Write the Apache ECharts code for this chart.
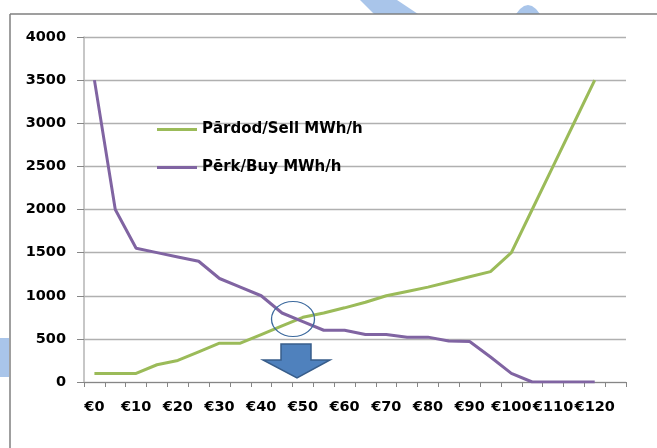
<!DOCTYPE html>
<html>
<head>
<meta charset="utf-8">
<script src="https://cdn.jsdelivr.net/npm/echarts@6/dist/echarts.min.js"></script>
<style>
  html, body { margin: 0; padding: 0; background: #ffffff; }
  #chart { width: 657px; height: 448px; }
</style>
</head>
<body>
<div id="chart"></div>
<script>
const categories = ['€0','€5','€10','€15','€20','€25','€30','€35','€40','€45','€50','€55','€60','€65','€70','€75','€80','€85','€90','€95','€100','€105','€110','€115','€120','€125'];
const sellName = 'Pārdod/Sell MWh/h';
const buyName = 'Pērk/Buy MWh/h';
const sellValues = [100,100,100,200,250,350,450,450,550,650,750,800,860,925,1000,1050,1100,1160,1220,1280,1500,2000,2500,3000,3500];
const buyValues = [3500,2000,1550,1500,1450,1400,1200,1100,1000,800,700,600,600,550,550,520,520,475,470,290,100,0,0,0,0];
const yTicks = [0,500,1000,1500,2000,2500,3000,3500,4000];

const FONT = 'DejaVu Sans';
const chart = echarts.init(document.getElementById('chart'));
chart.setOption({
  animation: false,
  backgroundColor: '#ffffff',
  textStyle: { fontFamily: FONT },
  grid: { left: 84, right: 31, top: 37, bottom: 66, containLabel: false },
  legend: {
    orient: 'vertical',
    left: 157,
    top: 122,
    padding: 0,
    icon: 'rect',
    itemWidth: 40,
    itemHeight: 3,
    itemGap: 23,
    textStyle: { color: '#000000', fontFamily: FONT, fontWeight: 'bold', fontSize: 15 },
    data: [sellName, buyName]
  },
  xAxis: {
    type: 'category',
    data: categories,
    boundaryGap: true,
    axisLine: { show: true, lineStyle: { color: '#868686', width: 1 } },
    axisTick: { show: true, interval: 0, length: 5, lineStyle: { color: '#868686' } },
    axisLabel: { interval: 1, margin: 18, color: '#000000', fontFamily: FONT, fontWeight: 'bold', fontSize: 14.5 },
    splitLine: { show: false }
  },
  yAxis: {
    type: 'value',
    min: yTicks[0],
    max: yTicks[yTicks.length - 1],
    interval: 500,
    axisLine: { show: true, lineStyle: { color: '#b4b4b4', width: 1.5 } },
    axisTick: { show: true, length: 7, lineStyle: { color: '#868686' } },
    axisLabel: { margin: 18, color: '#000000', fontFamily: FONT, fontWeight: 'bold', fontSize: 14.5, formatter: v => String(v) },
    splitLine: { show: true, lineStyle: { color: '#b0b0b0', width: 1.3 } }
  },
  series: [
    {
      name: sellName,
      type: 'line',
      data: sellValues,
      showSymbol: false,
      symbol: 'none',
      color: '#9bbb59',
      lineStyle: { color: '#9bbb59', width: 3 },
      z: 3
    },
    {
      name: buyName,
      type: 'line',
      data: buyValues,
      showSymbol: false,
      symbol: 'none',
      color: '#8064a2',
      lineStyle: { color: '#8064a2', width: 3 },
      z: 4
    }
  ],
  graphic: [
    { type: 'polygon', z: 0, shape: { points: [[360,0],[397,0],[418,14],[374,14]] }, style: { fill: '#a9c5ea' } },
    { type: 'polygon', z: 0, shape: { points: [[516,14],[520,9],[524,6],[528,5],[532,6],[536,9],[540,14]] }, style: { fill: '#a9c5ea' } },
    { type: 'rect', z: 0, shape: { x: 0, y: 338, width: 9, height: 39 }, style: { fill: '#a9c5ea' } },
    { type: 'line', z: 1, shape: { x1: 10, y1: 14, x2: 657, y2: 14 }, style: { stroke: '#7f7f7f', lineWidth: 1.5 } },
    { type: 'line', z: 1, shape: { x1: 10, y1: 14, x2: 10, y2: 448 }, style: { stroke: '#7f7f7f', lineWidth: 1.5 } },
    { type: 'circle', z: 10, x: 293, y: 319, scaleY: 17.5 / 21.5, shape: { cx: 0, cy: 0, r: 21.5 }, style: { fill: 'none', stroke: '#3d6a9e', lineWidth: 1.3 } },
    { type: 'polygon', z: 10, shape: { points: [[281,344],[311,344],[311,360],[330,360],[297,378],[263,360],[281,360]] }, style: { fill: '#4f81bd', stroke: '#385d8a', lineWidth: 1.5 } }
  ]
});
</script>
</body>
</html>
